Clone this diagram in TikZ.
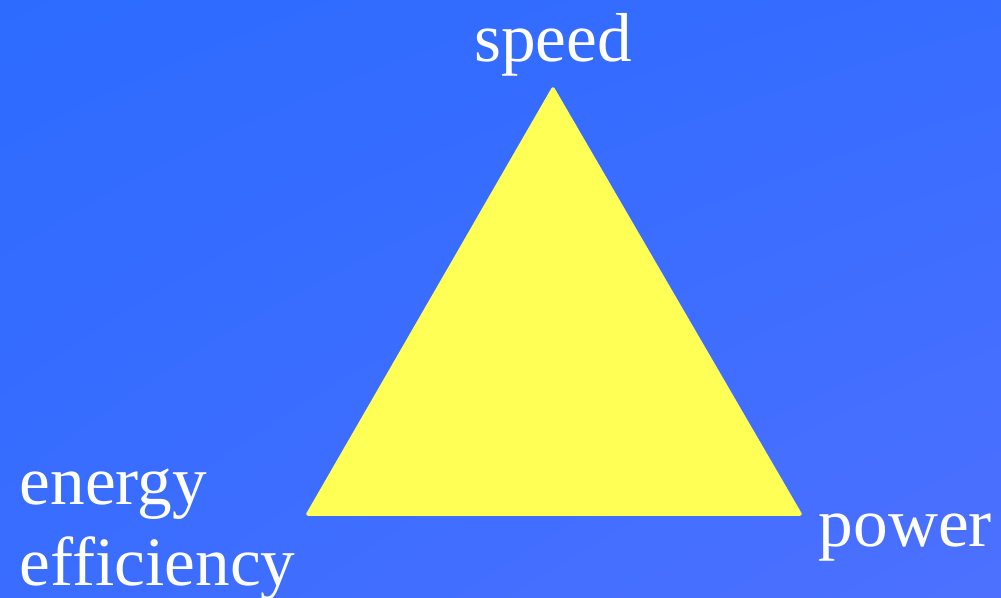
\documentclass[tikz,border=0pt]{standalone}
\usepackage{fontspec}
\setmainfont{Liberation Serif}
\usetikzlibrary{positioning,shadings}
\definecolor{bgtop}{HTML}{2D6BFF}
\definecolor{bgbot}{HTML}{4D70FF}
\definecolor{triyellow}{HTML}{FFFF55}
\tikzset{
  corner/.style = {font=\fontsize{19.7}{22.8}\selectfont, text=white, inner sep=0pt, align=left},
  tri/.style    = {fill=triyellow, draw=triyellow, line width=1pt, line join=round},
}
\begin{document}
\begin{tikzpicture}[x=0.01cm, y=-0.01cm]
  % background
  \shade[upper left=bgtop, upper right=bgtop!70!bgbot, lower left=bgtop!60!bgbot, lower right=bgbot]
    (0,0) rectangle (1001,598);
  \useasboundingbox (0,0) rectangle (1001,598);
  % triangle
  \coordinate (top) at (553,89);
  \coordinate (left) at (308,514);
  \coordinate (right) at (800,514);
  \fill[tri] (top) -- (left) -- (right) -- cycle;
  % labels
  \node[corner, anchor=base] (speed) at (553,62) {speed};
  \node[corner, anchor=base west] (energy) at (19,585) {energy\\efficiency};
  \node[corner, anchor=base west] (power) at (818,547) {power};
\end{tikzpicture}
\end{document}
